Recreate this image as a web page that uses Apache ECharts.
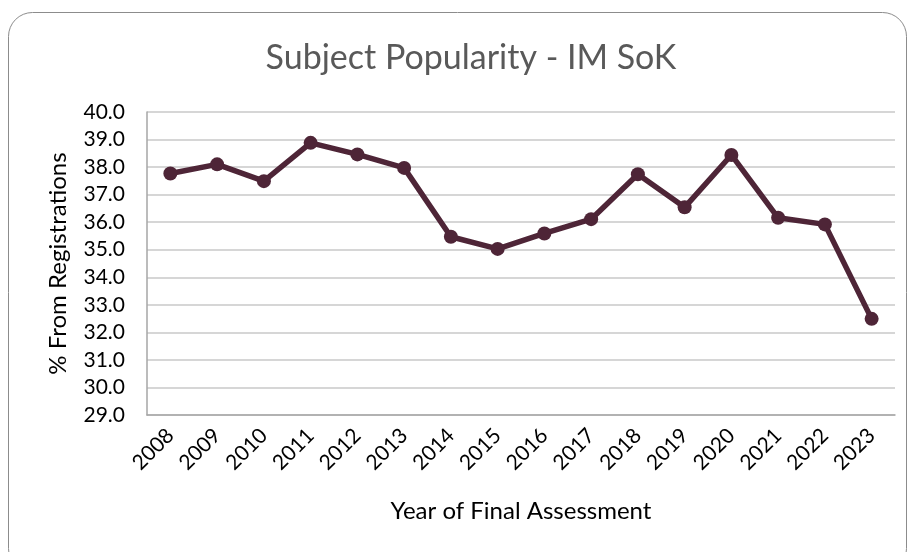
<!DOCTYPE html>
<html>
<head>
<meta charset="utf-8">
<script src="https://cdn.jsdelivr.net/npm/echarts@6/dist/echarts.min.js"></script>
<style>
html,body{margin:0;padding:0;background:#fff;}
#chart{width:911px;height:552px;}
</style>
</head>
<body>
<div id="chart"></div>
<script>
const years = ['2008','2009','2010','2011','2012','2013','2014','2015','2016','2017','2018','2019','2020','2021','2022','2023'];
const share = [37.77, 38.1, 37.49, 38.88, 38.46, 37.97, 35.47, 35.03, 35.59, 36.11, 37.74, 36.54, 38.44, 36.16, 35.92, 32.49];
const chartTitle = 'Subject Popularity - IM SoK';
const xName = 'Year of Final Assessment';
const yName = '% From Registrations';

const FONT = 'Lato';
const chart = echarts.init(document.getElementById('chart'), null, {renderer: 'canvas'});
chart.setOption({
  animation: false,
  backgroundColor: '#ffffff',
  graphic: [{
    type: 'rect',
    silent: true,
    z: -1,
    shape: {x: 8.5, y: 12.5, width: 898, height: 560, r: 24},
    style: {fill: 'none', stroke: '#8c8c8c', lineWidth: 1}
  }],
  title: {
    text: chartTitle,
    left: 466,
    textAlign: 'center',
    top: 36,
    textStyle: {fontFamily: FONT, fontSize: 34, fontWeight: 'normal', color: '#595959'}
  },
  grid: {left: 147, right: 16, top: 112, bottom: 137},
  xAxis: {
    type: 'category',
    data: years,
    boundaryGap: true,
    name: xName,
    nameLocation: 'middle',
    nameGap: 84,
    nameTextStyle: {fontFamily: FONT, fontSize: 24, color: '#000'},
    axisLine: {show: true, lineStyle: {color: '#a6a6a6', width: 1.5}},
    axisTick: {show: false},
    axisLabel: {rotate: 45, margin: 17, fontFamily: FONT, fontSize: 21, color: '#000'}
  },
  yAxis: {
    type: 'value',
    min: 29,
    max: 40,
    interval: 1,
    name: yName,
    nameLocation: 'middle',
    nameGap: 77,
    nameTextStyle: {fontFamily: FONT, fontSize: 24, color: '#000'},
    axisLine: {show: true, lineStyle: {color: '#a6a6a6', width: 1.5}},
    axisTick: {show: false},
    splitLine: {show: true, lineStyle: {color: '#c8c8c8', width: 1.5}},
    axisLabel: {margin: 22, fontFamily: FONT, fontSize: 21, color: '#000', formatter: v => v.toFixed(1)}
  },
  series: [{
    type: 'line',
    data: share,
    symbol: 'circle',
    symbolSize: 14,
    lineStyle: {color: '#4e2537', width: 5.5},
    itemStyle: {color: '#4e2537'}
  }]
});
</script>
</body>
</html>
